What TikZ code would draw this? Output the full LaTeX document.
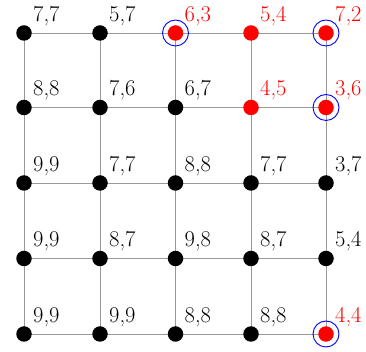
\documentclass[tikz,border=0pt]{standalone}
\usepackage{fontspec}
\begin{document}
\begin{tikzpicture}[x=1pt,y=1pt,
  dot/.style={circle,fill=black,inner sep=0pt,minimum size=15.5pt},
  reddot/.style={circle,fill=red,inner sep=0pt,minimum size=15.5pt},
  ring/.style={circle,draw=blue,line width=0.9pt,inner sep=0pt,minimum size=26pt},
  edge/.style={draw=black!40,line width=0.9pt},
  lab/.style={anchor=base west,inner sep=0pt,font=\fontsize{22.5}{26}\selectfont},
  redlab/.style={lab,text=red}]
\useasboundingbox (0,0) rectangle (366,352);
% nodes: row r (1 top), column c
\foreach \r/\yy in {1/319,2/244.5,3/169,4/93.5,5/18}{
  \foreach \c/\xx in {1/24,2/100,3/175.5,4/251,5/326}{
    \coordinate (p-\r-\c) at (\xx,\yy);
  }
}
% edges
\foreach \r in {1,...,5}{
  \foreach \c [evaluate=\c as \cn using int(\c+1)] in {1,...,4}{
    \draw[edge] (p-\r-\c) -- (p-\r-\cn);
  }
}
\foreach \c in {1,...,5}{
  \foreach \r [evaluate=\r as \rn using int(\r+1)] in {1,...,4}{
    \draw[edge] (p-\r-\c) -- (p-\rn-\c);
  }
}
% nodes
\foreach \r/\c/\s in {1/1/dot,1/2/dot,1/3/reddot,1/4/reddot,1/5/reddot,
  2/1/dot,2/2/dot,2/3/dot,2/4/reddot,2/5/reddot,
  3/1/dot,3/2/dot,3/3/dot,3/4/dot,3/5/dot,
  4/1/dot,4/2/dot,4/3/dot,4/4/dot,4/5/dot,
  5/1/dot,5/2/dot,5/3/dot,5/4/dot,5/5/reddot}{
  \node[\s] (n-\r-\c) at (p-\r-\c) {};
}
\foreach \r/\c in {1/3,1/5,2/5,5/5}{
  \node[ring] (o-\r-\c) at (p-\r-\c) {};
}
% labels
\foreach \r/\c/\t/\s in {1/1/{7,7}/lab,1/2/{5,7}/lab,1/3/{6,3}/redlab,1/4/{5,4}/redlab,1/5/{7,2}/redlab,
  2/1/{8,8}/lab,2/2/{7,6}/lab,2/3/{6,7}/lab,2/4/{4,5}/redlab,2/5/{3,6}/redlab,
  3/1/{9,9}/lab,3/2/{7,7}/lab,3/3/{8,8}/lab,3/4/{7,7}/lab,3/5/{3,7}/lab,
  4/1/{9,9}/lab,4/2/{8,7}/lab,4/3/{9,8}/lab,4/4/{8,7}/lab,4/5/{5,4}/lab,
  5/1/{9,9}/lab,5/2/{9,9}/lab,5/3/{8,8}/lab,5/4/{8,8}/lab,5/5/{4,4}/redlab}{
  \node[\s] (l-\r-\c) at ([shift={(9,11.5)}]p-\r-\c) {\t};
}
\end{tikzpicture}
\end{document}
